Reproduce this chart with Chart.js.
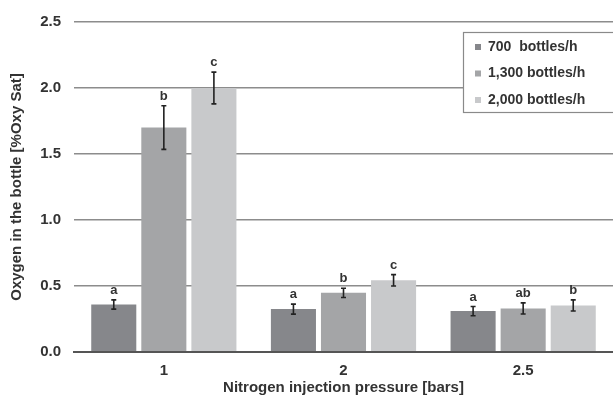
<!DOCTYPE html>
<html>
<head>
<meta charset="utf-8">
<script src="https://cdn.jsdelivr.net/npm/chart.js@4.4.1/dist/chart.umd.min.js"></script>
<style>
  html, body { margin: 0; padding: 0; background: #fff; }
  #wrap { width: 613px; height: 399px; }
</style>
</head>
<body>
<div id="wrap"><canvas id="grafico"></canvas></div>
<script>
// dados
const pressoes = ['1', '2', '2.5'];
const series = ['700  bottles/h', '1,300 bottles/h', '2,000 bottles/h'];
const cores = ['#86878b', '#a4a5a7', '#c8c9cb'];

const oxi700 = [0.36, 0.325, 0.31];
const oxi1300 = [1.70, 0.448, 0.33];
const oxi2000 = [2.00, 0.543, 0.353];

const erro700 = [0.035, 0.038, 0.035];
const erro1300 = [0.165, 0.035, 0.042];
const erro2000 = [0.12, 0.043, 0.042];

const letras700 = ['a', 'a', 'a'];
const letras1300 = ['b', 'b', 'ab'];
const letras2000 = ['c', 'c', 'b'];

const yTicks = [0, 0.5, 1.0, 1.5, 2.0, 2.5];

const fonte = "'Liberation Sans', Arial, sans-serif";

// barras de erro + letras de significancia
const errosPlugin = {
    id: 'erros',
    afterDatasetsDraw(chart) {
        const ctx = chart.ctx;
        const yScale = chart.scales.y;
        chart.data.datasets.forEach((ds, i) => {
            const meta = chart.getDatasetMeta(i);
            meta.data.forEach((bar, j) => {
                const v = ds.data[j];
                const e = ds.erros[j];
                const yTop = yScale.getPixelForValue(v + e);
                const yBot = yScale.getPixelForValue(v - e);
                ctx.save();
                ctx.strokeStyle = '#222';
                ctx.lineWidth = 1.6;
                ctx.beginPath();
                ctx.moveTo(bar.x, yTop); ctx.lineTo(bar.x, yBot);
                ctx.moveTo(bar.x - 2.5, yTop); ctx.lineTo(bar.x + 2.5, yTop);
                ctx.moveTo(bar.x - 2.5, yBot); ctx.lineTo(bar.x + 2.5, yBot);
                ctx.stroke();
                ctx.fillStyle = '#333';
                ctx.font = "bold 13px 'Liberation Sans Narrow', " + fonte;
                ctx.textAlign = 'center';
                ctx.textBaseline = 'bottom';
                ctx.fillText(ds.letras[j], bar.x, yTop - 3);
                ctx.restore();
            });
        });
    }
};

// legenda em caixa dentro do grafico
const legendaPlugin = {
    id: 'legendaCaixa',
    afterDraw(chart) {
        const ctx = chart.ctx;
        const x0 = 463, y0 = 32;
        ctx.save();
        ctx.fillStyle = '#fff';
        ctx.fillRect(x0, y0, 160, 81);
        ctx.strokeStyle = '#8a8a8a';
        ctx.lineWidth = 1.2;
        ctx.strokeRect(x0 + 0.5, y0 + 0.5, 160, 80);
        ctx.font = 'bold 14px ' + fonte;
        ctx.textBaseline = 'middle';
        chart.data.datasets.forEach((ds, i) => {
            const yy = y0 + 15 + i * 26.5;
            ctx.fillStyle = ds.backgroundColor;
            ctx.fillRect(x0 + 12, yy - 3, 6, 6);
            ctx.fillStyle = '#333';
            ctx.fillText(ds.label, x0 + 25, yy);
        });
        ctx.restore();
    }
};

const erros = [erro700, erro1300, erro2000];
const letras = [letras700, letras1300, letras2000];
const valores = [oxi700, oxi1300, oxi2000];

new Chart(document.getElementById('grafico'), {
    type: 'bar',
    data: {
        labels: pressoes,
        datasets: series.map((nome, i) => ({
            label: nome,
            data: valores[i],
            erros: erros[i],
            letras: letras[i],
            backgroundColor: cores[i],
            borderWidth: 0,
            categoryPercentage: 0.836,
            barPercentage: 0.9
        }))
    },
    options: {
        responsive: true,
        maintainAspectRatio: false,
        animation: false,
        layout: { padding: { top: 20, right: 0, bottom: 0, left: 0 } },
        plugins: { legend: { display: false }, tooltip: { enabled: false } },
        scales: {
            x: {
                grid: { display: false, drawTicks: false },
                border: { display: true, color: '#555', width: 2 },
                ticks: { color: '#333', padding: 10, font: { family: fonte, size: 15, weight: 'bold' } },
                title: {
                    display: true,
                    text: 'Nitrogen injection pressure [bars]',
                    color: '#333',
                    padding: { top: 0, bottom: 2 },
                    font: { family: fonte, size: 15, weight: 'bold' }
                },
                afterFit: (s) => { s.height = 47; }
            },
            y: {
                min: 0,
                max: 2.5,
                afterBuildTicks: (s) => { s.ticks = yTicks.map(v => ({ value: v })); },
                grid: {
                    drawTicks: false,
                    color: (c) => c.tick && c.tick.value === 0 ? '#555' : '#8c8c8c',
                    lineWidth: (c) => c.tick && c.tick.value === 0 ? 2 : 1.5
                },
                border: { display: false },
                ticks: {
                    color: '#333',
                    padding: 13,
                    font: { family: fonte, size: 15, weight: 'bold' },
                    callback: (v) => Number(v).toFixed(1)
                },
                title: {
                    display: true,
                    text: 'Oxygen in the bottle [%Oxy Sat]',
                    color: '#333',
                    padding: { top: 8, bottom: 0 },
                    font: { family: fonte, size: 15, weight: 'bold' }
                },
                afterFit: (s) => { s.width = 74; }
            }
        }
    },
    plugins: [errosPlugin, legendaPlugin]
});
</script>
</body>
</html>
